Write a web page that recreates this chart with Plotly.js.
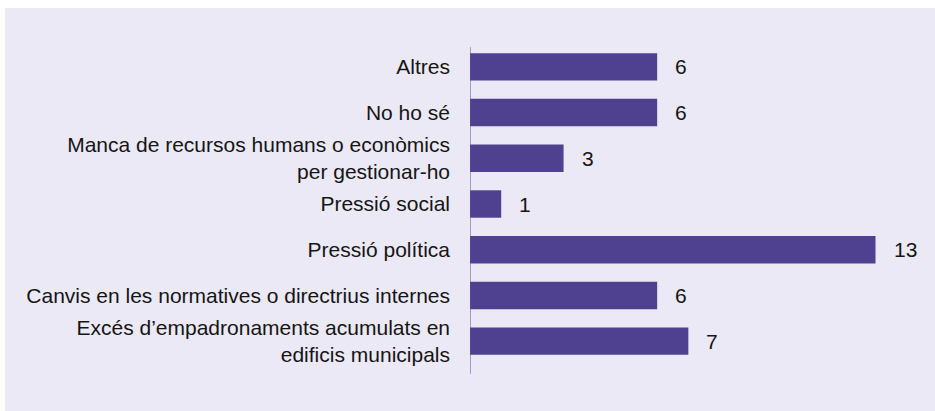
<!DOCTYPE html>
<html>
<head>
<meta charset="utf-8">
<script src="https://cdn.plot.ly/plotly-3.0.1.min.js"></script>
<style>
html,body{margin:0;padding:0;background:#ffffff;}
#chart{position:absolute;left:5px;top:8px;width:930px;height:403px;}
</style>
</head>
<body>
<div id="chart"></div>
<script>
const categories = [
  "Altres",
  "No ho sé",
  "Manca de recursos humans o econòmics<br>per gestionar-ho",
  "Pressió social",
  "Pressió política",
  "Canvis en les normatives o directrius internes",
  "Excés d’empadronaments acumulats en<br>edificis municipals"
];
const values = [6, 6, 3, 1, 13, 6, 7];

const barColor = "#4F418F";
const font = {family: "Liberation Sans, Arial, sans-serif", size: 21, color: "#151515"};

const annotations = values.map((v, i) => ({
  x: v, y: categories[i], xref: "x", yref: "y",
  text: String(v), showarrow: false, xanchor: "left", xshift: 16,
  font: font
}));

Plotly.newPlot("chart", [{
  type: "bar",
  orientation: "h",
  x: values,
  y: categories,
  marker: {color: barColor},
  width: 0.6,
  hoverinfo: "none"
}], {
  width: 930, height: 403,
  paper_bgcolor: "#EBE9F6",
  plot_bgcolor: "#EBE9F6",
  margin: {l: 465, r: 23, t: 36, b: 47},
  showlegend: false,
  font: font,
  xaxis: {range: [0, 14.17], visible: false, fixedrange: true},
  yaxis: {
    type: "category",
    autorange: "reversed",
    showline: false,
    showgrid: false, zeroline: false,
    ticks: "", ticklabelstandoff: 19,
    tickfont: font
  },
  shapes: [{
    type: "line", xref: "x", yref: "paper",
    x0: 0, x1: 0, y0: -0.031, y1: 0.99,
    line: {color: "#5B4FA0", width: 1},
    layer: "above"
  }],
  annotations: annotations
}, {staticPlot: true});
</script>
</body>
</html>
